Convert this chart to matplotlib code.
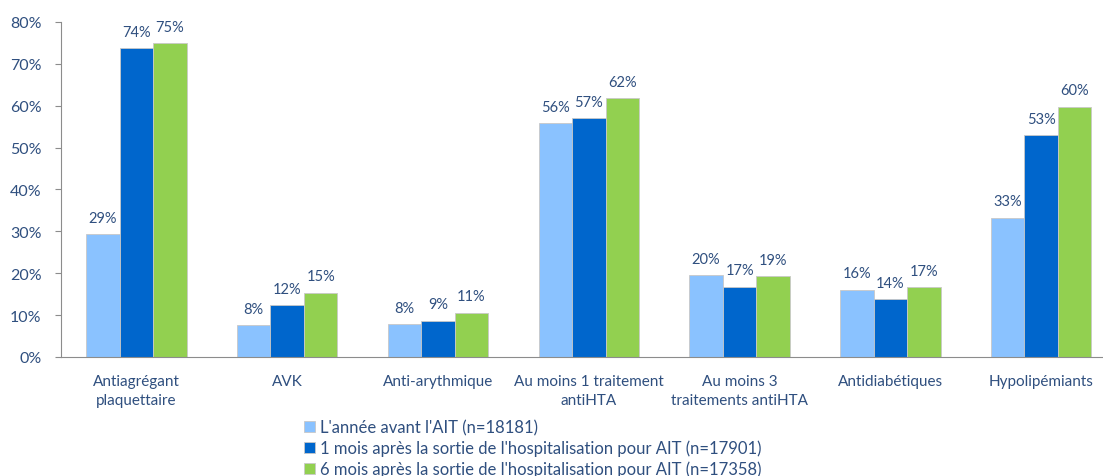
import numpy as np
import matplotlib.pyplot as plt

categories = ["Antiagrégant\nplaquettaire", "AVK", "Anti-arythmique",
              "Au moins 1 traitement\nantiHTA", "Au moins 3\ntraitements antiHTA",
              "Antidiabétiques", "Hypolipémiants"]
avant = [29.4, 7.6, 7.9, 55.8, 19.6, 16.1, 33.3]
un_mois = [73.7, 12.3, 8.7, 57.1, 16.8, 13.9, 53.0]
six_mois = [74.9, 15.4, 10.6, 61.8, 19.4, 16.7, 59.8]
series_labels = ["L'année avant l'AIT (n=18181)",
                 "1 mois après la sortie de l'hospitalisation pour AIT (n=17901)",
                 "6 mois après la sortie de l'hospitalisation pour AIT (n=17358)"]
colors = ["#8AC2FF", "#0066CC", "#92D050"]
text_color = "#2F4F7F"

plt.rcParams['font.family'] = ['Lato', 'DejaVu Sans']

fig = plt.figure(figsize=(11.03, 4.77), dpi=100)
ax = fig.add_axes([0.0553, 0.2495, 0.9447, 0.7023])

x = np.arange(len(categories))
w = 0.222
for i, vals in enumerate([avant, un_mois, six_mois]):
    pos = x + (i - 1) * w
    ax.bar(pos, vals, w, color=colors[i], edgecolor="#C8C8C8", linewidth=0.6,
           label=series_labels[i])
    for p, v in zip(pos, vals):
        ax.text(p, v + 2.2, f"{round(v):.0f}%", ha="center", va="bottom",
                fontsize=10.5, color=text_color)

ax.set_ylim(0, 80)
ax.set_xlim(-0.5, 6.41)
ax.set_yticks(np.arange(0, 81, 10))
ax.set_yticklabels([f"{t}%" for t in range(0, 81, 10)], fontsize=11.5, color=text_color)
ax.set_xticks(x)
ax.set_xticklabels(categories, fontsize=11, color=text_color, linespacing=1.5)
ax.tick_params(axis="x", length=0, pad=12)
ax.tick_params(axis="y", length=4, color="#8C8C8C", pad=10)
for s in ["top", "right"]:
    ax.spines[s].set_visible(False)
ax.spines["left"].set_color("#8C8C8C")
ax.spines["bottom"].set_color("#8C8C8C")

handles, labels = ax.get_legend_handles_labels()
fig.legend(handles, labels, loc="upper left", bbox_to_anchor=(0.268, 0.136),
           frameon=False, fontsize=12, labelcolor=text_color, handlelength=0.65,
           handleheight=0.65, handletextpad=0.3, labelspacing=0.25, borderpad=0)

fig.savefig("out.png", dpi=100)
